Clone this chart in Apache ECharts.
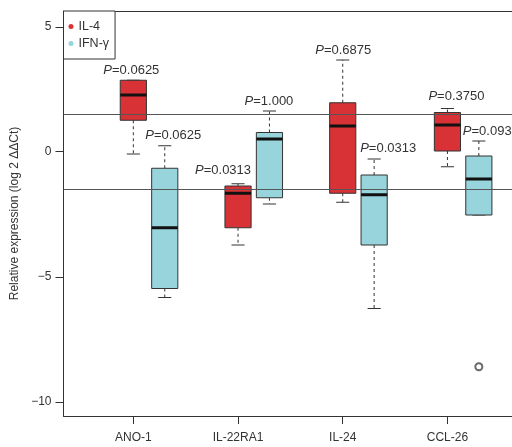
<!DOCTYPE html>
<html>
<head>
<meta charset="utf-8">
<script src="https://cdn.jsdelivr.net/npm/echarts@6/dist/echarts.min.js"></script>
<style>html,body{margin:0;padding:0;background:#fff}#chart{width:512px;height:447px}</style>
</head>
<body>
<div id="chart"></div>
<script>
// ---- data ----
const categories = ['ANO-1', 'IL-22RA1', 'IL-24', 'CCL-26'];
// [lower whisker, Q1, median, Q3, upper whisker]
const il4Boxes = [
  [-0.09, 1.26, 2.27, 2.86, 2.86],
  [-3.73, -3.04, -1.66, -1.37, -1.28],
  [-2.02, -1.66, 1.03, 1.96, 3.67],
  [-0.60, 0.03, 1.07, 1.57, 1.73]
];
const ifnBoxes = [
  [-5.83, -5.47, -3.04, -0.66, 0.24],
  [-2.09, -1.84, 0.51, 0.77, 1.63],
  [-6.27, -3.73, -1.72, -0.93, -0.29],
  [-2.53, -2.53, -1.09, -0.17, 0.43]
];
const ifnOutliers = [[3, -8.6]]; // [category index, value]
const il4P = ['0.0625', '0.0313', '0.6875', '0.3750'];
const ifnP = ['0.0625', '1.000', '0.0313', '0.0938'];
const thresholds = [1.5, -1.5];
const yTicks = [-10, -5, 0, 5];
const seriesNames = ['IL-4', 'IFN-\u03b3'];

// ---- layout / style (not data) ----
const COLORS = ['#d93236', '#98d4dc'];
const GROUP_OFFSET = [0, 0.3];
const BOX_W = 0.25;
const LABEL_DX = [[-2, -15, 0.5, 9], [8.5, -0.5, 14, 12]];
const LABEL_DY = [[10, 13, 9.5, 12], [10, 9.5, 10.5, 10]];
const FONT = "'Liberation Sans', Arial, Helvetica, sans-serif";
const GRID_LEFT = 63.5;
const PX_PER_X = 104.7;
const X_MIN = 0.333;
const X_MAX = X_MIN + (512 - GRID_LEFT) / PX_PER_X;

function boxData(boxes, g) {
  return boxes.map((b, i) => [i + 1 + GROUP_OFFSET[g]].concat(b));
}

function makeRender(g, pvals) {
  return function (params, api) {
    const x = api.value(0);
    const lo = api.coord([x, api.value(1)]);
    const q1 = api.coord([x, api.value(2)]);
    const md = api.coord([x, api.value(3)]);
    const q3 = api.coord([x, api.value(4)]);
    const hi = api.coord([x, api.value(5)]);
    const hw = api.size([BOX_W, 0])[0] / 2;
    const cx = lo[0];
    const stroke = '#333';
    const i = params.dataIndex;
    return {
      type: 'group',
      children: [
        {type: 'line', shape: {x1: cx, y1: q3[1], x2: cx, y2: hi[1]}, style: {stroke: stroke, lineWidth: 1, lineDash: [3, 3]}},
        {type: 'line', shape: {x1: cx, y1: q1[1], x2: cx, y2: lo[1]}, style: {stroke: stroke, lineWidth: 1, lineDash: [3, 3]}},
        {type: 'line', shape: {x1: cx - hw / 2, y1: hi[1], x2: cx + hw / 2, y2: hi[1]}, style: {stroke: stroke, lineWidth: 1}},
        {type: 'line', shape: {x1: cx - hw / 2, y1: lo[1], x2: cx + hw / 2, y2: lo[1]}, style: {stroke: stroke, lineWidth: 1}},
        {type: 'rect', shape: {x: cx - hw, y: q3[1], width: 2 * hw, height: q1[1] - q3[1]}, style: {fill: COLORS[g], stroke: stroke, lineWidth: 1}},
        {type: 'line', shape: {x1: cx - hw, y1: md[1], x2: cx + hw, y2: md[1]}, style: {stroke: '#111', lineWidth: 3}},
        {type: 'text', x: cx + LABEL_DX[g][i], y: hi[1] - LABEL_DY[g][i],
          style: {text: '{i|P}=' + pvals[i], align: 'center', verticalAlign: 'middle', fill: '#333', font: '13px ' + FONT,
            rich: {i: {fontStyle: 'italic', fontSize: 13, fontFamily: FONT, fill: '#333'}}}}
      ]
    };
  };
}

const chart = echarts.init(document.getElementById('chart'));
chart.setOption({
  animation: false,
  backgroundColor: '#fff',
  textStyle: {fontFamily: FONT},
  grid: {left: GRID_LEFT, top: 11, right: 0, height: 405, show: false},
  legend: {
    data: seriesNames, orient: 'vertical', left: GRID_LEFT, top: 11,
    icon: 'circle', itemWidth: 5, itemHeight: 5, itemGap: 4, itemTextGap: 6,
    padding: [9, 6, 9, 5], borderColor: '#333', borderWidth: 1, backgroundColor: '#fff',
    textStyle: {fontSize: 12.5, color: '#333', fontFamily: FONT}
  },
  xAxis: [{
    type: 'value', min: X_MIN, max: X_MAX,
    splitLine: {show: false},
    axisLine: {show: true, onZero: false, lineStyle: {color: '#333'}},
    axisTick: {show: true, length: 8, customValues: categories.map((c, i) => i + 1), lineStyle: {color: '#333'}},
    axisLabel: {customValues: categories.map((c, i) => i + 1), formatter: v => categories[Math.round(v) - 1] || '',
      fontSize: 12, color: '#333', margin: 16, fontFamily: FONT}
  }, {
    type: 'value', position: 'top', min: X_MIN, max: X_MAX,
    splitLine: {show: false}, axisTick: {show: false}, axisLabel: {show: false},
    axisLine: {show: true, onZero: false, lineStyle: {color: '#333'}}
  }],
  yAxis: {
    type: 'value', min: -10.57, max: 5.63,
    name: 'Relative expression (log 2 \u0394\u0394Ct)', nameLocation: 'middle', nameGap: 35,
    nameTextStyle: {fontSize: 12, color: '#333', fontFamily: FONT},
    splitLine: {show: false},
    axisLine: {show: true, onZero: false, lineStyle: {color: '#333'}},
    axisTick: {show: true, length: 8, customValues: yTicks, lineStyle: {color: '#333'}},
    axisLabel: {customValues: yTicks, formatter: v => v < 0 ? '\u2212' + Math.abs(v) : String(v),
      fontSize: 12, color: '#333', margin: 12, fontFamily: FONT}
  },
  series: [
    {name: seriesNames[0], type: 'custom', itemStyle: {color: COLORS[0]}, renderItem: makeRender(0, il4P),
      encode: {x: 0, y: [1, 2, 3, 4, 5]}, data: boxData(il4Boxes, 0), z: 2},
    {name: seriesNames[1], type: 'custom', itemStyle: {color: COLORS[1]}, renderItem: makeRender(1, ifnP),
      encode: {x: 0, y: [1, 2, 3, 4, 5]}, data: boxData(ifnBoxes, 1), z: 2,
      markLine: {silent: true, symbol: ['none', 'none'], label: {show: false}, z: 5,
        lineStyle: {color: '#555', type: 'solid', width: 1},
        data: thresholds.map(t => ({yAxis: t}))}},
    {name: 'outlier', type: 'scatter', symbol: 'emptyCircle', symbolSize: 7,
      itemStyle: {color: '#444', borderWidth: 1},
      data: ifnOutliers.map(o => [o[0] + 1 + GROUP_OFFSET[1], o[1]]), z: 3}
  ]
});
</script>
</body>
</html>
